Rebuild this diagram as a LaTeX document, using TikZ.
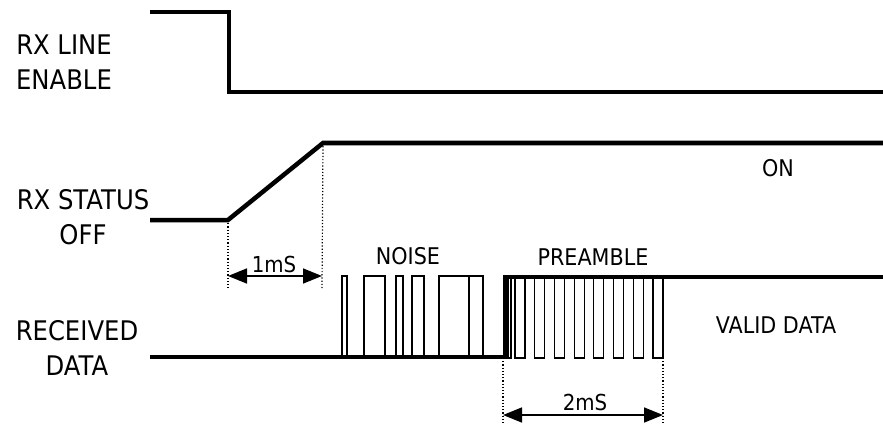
\documentclass[tikz,border=0pt]{standalone}
\usepackage{fontspec}
\setmainfont{DejaVu Sans}[FakeStretch=0.9]
\usepackage{tikz}
\usetikzlibrary{arrows.meta, positioning, calc}
\definecolor{mydark}{RGB}{0,0,0}
\tikzset{
  siglabel/.style={align=center, font=\fontsize{27}{35}\selectfont, text=mydark},
  tag/.style={font=\fontsize{23}{26}\selectfont, text=mydark},
  dimtext/.style={font=\fontsize{22}{24}\selectfont, text=mydark},
  trace/.style={line width=4.5pt, color=mydark, line join=miter},
  pulse/.style={line width=1.2pt, color=mydark},
  guide/.style={dotted, line width=1.2pt, color=mydark},
  dimarrow/.style={{Triangle[length=19pt,width=15pt]}-{Triangle[length=19pt,width=15pt]}, line width=1.6pt, color=mydark}
}

\begin{document}
\begin{tikzpicture}[x=1pt, y=-1pt]
  \useasboundingbox (0,0) rectangle (883,425);

  % signal names
  \node[siglabel] (enlbl) at (64,62) {RX LINE\\ENABLE};
  \node[siglabel] (stlbl) at (83,217) {RX STATUS\\OFF};
  \node[siglabel] (rxlbl) at (77,348) {RECEIVED\\DATA};

  % RX line enable
  \draw[trace] (150,12) -- (229,12) -- (229,92) -- (883,92);

  % RX status
  \coordinate (rampa) at (228,220);
  \coordinate (rampb) at (323,143);
  \draw[trace] (150,220) -- (rampa) -- (rampb) -- (883,143);
  \node[tag] (onlbl) at (778,168) {ON};

  % received data
  \coordinate (stepup) at (505,357);
  \draw[trace] (150,357) -- (stepup) -- (505,277) -- (883,277);

  % noise
  \foreach \a/\b in {342/347, 364/385, 396/403, 412/424, 439/469, 469/483}
    \draw[pulse] (\a,357) -- (\a,276) -- (\b,276) -- (\b,357);
  \node[tag] (noise) at (408,256) {NOISE};

  % preamble
  \draw[pulse] (508,277) -- (508,358) -- (511,358) -- (511,277);
  \foreach \i in {0,...,7}
    \draw[pulse] ({515+19.7*\i},277) -- ({515+19.7*\i},358) -- ({525+19.7*\i},358) -- ({525+19.7*\i},277);
  \node[tag] (pre) at (593,257) {PREAMBLE};
  \node[tag] (valid) at (776,325) {VALID DATA};

  % 1mS
  \coordinate (ga) at (228,288);
  \coordinate (gb) at (322,288);
  \draw[guide] (rampa) -- (ga);
  \draw[guide] (rampb) -- (gb);
  \draw[dimarrow] (228,276) -- (322,276);
  \node[dimtext] (onems) at (274,264) {1mS};

  % 2mS
  \coordinate (gc) at (503,423);
  \coordinate (gd) at (663,423);
  \draw[guide] (503,358) -- (gc);
  \draw[guide] (663,358) -- (gd);
  \draw[dimarrow] (503,415) -- (663,415);
  \node[dimtext] (twoms) at (585,402) {2mS};
\end{tikzpicture}
\end{document}
